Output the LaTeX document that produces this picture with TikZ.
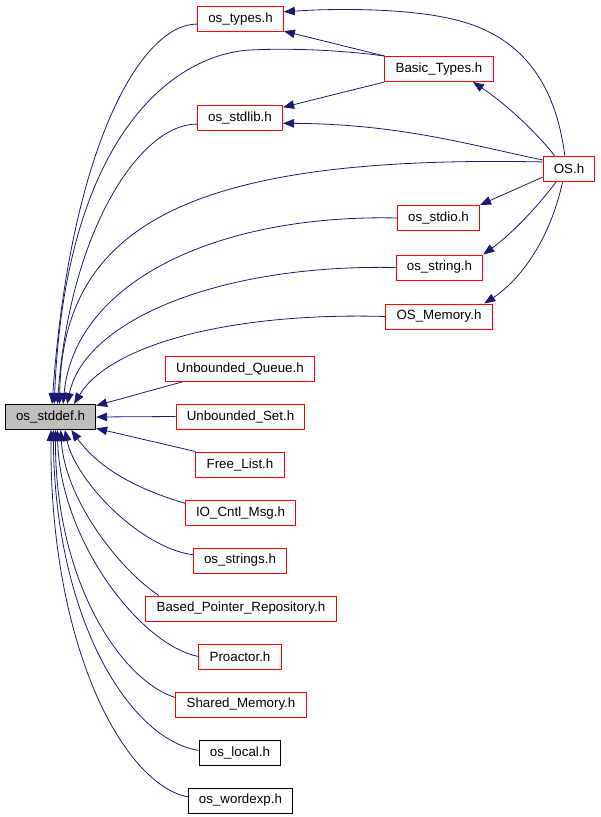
\documentclass[tikz,border=0pt]{standalone}
\usepackage{fontspec}
\setmainfont{Liberation Sans}
\usepackage{tikz}
\usetikzlibrary{shapes}
\usetikzlibrary{arrows.meta}
\pgfdeclarelayer{edgelayer}
\pgfdeclarelayer{nodelayer}
\pgfsetlayers{edgelayer,nodelayer,main}
\definecolor{navy}{rgb}{0.1,0.1,0.44}
\definecolor{boxred}{rgb}{1,0,0}
\definecolor{boxgrey}{rgb}{0.75,0.75,0.75}
\tikzstyle{file}=[rectangle, draw, fill=white, line width=0.75pt, inner xsep=8pt, inner ysep=0pt, minimum height=18.75pt, font=\fontsize{10}{12}\selectfont]
\tikzstyle{dep}=[color=navy, line width=0.6pt]

\begin{document}
\begin{tikzpicture}[x=0.75pt, y=-0.75pt, >={Triangle[length=8.25pt,width=6.4pt]}]
	\useasboundingbox (0, 0) rectangle (600, 817);
	\begin{pgfonlayer}{nodelayer}
		\node [style=file, draw=black, fill=boxgrey] (0) at (50.5, 417) {os\_stddef.h};
		\node [style=file, draw=boxred] (1) at (240.5, 19.5) {os\_types.h};
		\node [style=file, draw=boxred] (2) at (439, 69) {Basic\_Types.h};
		\node [style=file, draw=boxred] (3) at (240, 118) {os\_stdlib.h};
		\node [style=file, draw=boxred] (4) at (569, 168.5) {OS.h};
		\node [style=file, draw=boxred] (5) at (438.5, 218) {os\_stdio.h};
		\node [style=file, draw=boxred] (6) at (439.5, 267.5) {os\_string.h};
		\node [style=file, draw=boxred] (7) at (439, 316.5) {OS\_Memory.h};
		\node [style=file, draw=boxred] (8) at (240, 368.5) {Unbounded\_Queue.h};
		\node [style=file, draw=boxred] (9) at (240.5, 416.5) {Unbounded\_Set.h};
		\node [style=file, draw=boxred] (10) at (240, 464.5) {Free\_List.h};
		\node [style=file, draw=boxred] (11) at (240.5, 513) {IO\_Cntl\_Msg.h};
		\node [style=file, draw=boxred] (12) at (240, 560.5) {os\_strings.h};
		\node [style=file, draw=boxred] (13) at (241, 608.5) {Based\_Pointer\_Repository.h};
		\node [style=file, draw=boxred] (14) at (240, 656.5) {Proactor.h};
		\node [style=file, draw=boxred] (15) at (241, 704.5) {Shared\_Memory.h};
		\node [style=file, draw=black] (16) at (240, 752.5) {os\_local.h};
		\node [style=file, draw=black] (17) at (240.5, 800.5) {os\_wordexp.h};
	\end{pgfonlayer}
	\begin{pgfonlayer}{edgelayer}
		\draw [style=dep, ->](1.186) .. controls (140, 24) and (70, 150) .. (0.83);
		\draw [style=dep, ->](2.north west) .. controls (340, 50) and (290, 48) .. (250, 50) .. controls (170, 55) and (65, 140) .. (0.74);
		\draw [style=dep, ->](3.188) .. controls (140, 124) and (70, 230) .. (0.62);
		\draw [style=dep, ->](4.166) .. controls (200, 155) and (62, 220) .. (0.55);
		\draw [style=dep, ->](5.west) .. controls (220, 214) and (75, 280) .. (0.46);
		\draw [style=dep, ->](6.west) .. controls (220, 264) and (85, 320) .. (0.38);
		\draw [style=dep, ->](7.west) .. controls (230, 312) and (110, 345) .. (0.29);
		\draw [style=dep, ->](2.north west) to (1.345);
		\draw [style=dep, ->](4.108) .. controls (555, 80) and (520, 40) .. (467, 23) .. controls (420, 8) and (340, 8) .. (1.10);
		\draw [style=dep, ->](4.138) .. controls (530, 125) and (500, 100) .. (2.339);
		\draw [style=dep, ->](2.south west) to (3.14);
		\draw [style=dep, ->](4.162) .. controls (470, 145) and (400, 124) .. (3.353);
		\draw [style=dep, ->](4.198) to (5.north east);
		\draw [style=dep, ->](4.226) .. controls (535, 210) and (510, 235) .. (6.north east);
		\draw [style=dep, ->](4.244) .. controls (550, 240) and (520, 280) .. (7.16);
		\draw [style=dep, ->](8.193) to (0.14);
		\draw [style=dep, ->](9.west) to (0.east);
		\draw [style=dep, ->](10.north west) to (0.346);
		\draw [style=dep, ->](11.170) .. controls (140, 490) and (100, 470) .. (0.328);
		\draw [style=dep, ->](12.173) .. controls (140, 548) and (75, 480) .. (0.318);
		\draw [style=dep, ->](13.171) .. controls (120, 570) and (65, 500) .. (0.308);
		\draw [style=dep, ->](14.west) .. controls (140, 645) and (60, 540) .. (0.298);
		\draw [style=dep, ->](15.174) .. controls (120, 680) and (55, 580) .. (0.291);
		\draw [style=dep, ->](16.177) .. controls (130, 740) and (55, 620) .. (0.282);
		\draw [style=dep, ->](17.176) .. controls (125, 785) and (50, 650) .. (0.272);
	\end{pgfonlayer}
\end{tikzpicture}
\end{document}
